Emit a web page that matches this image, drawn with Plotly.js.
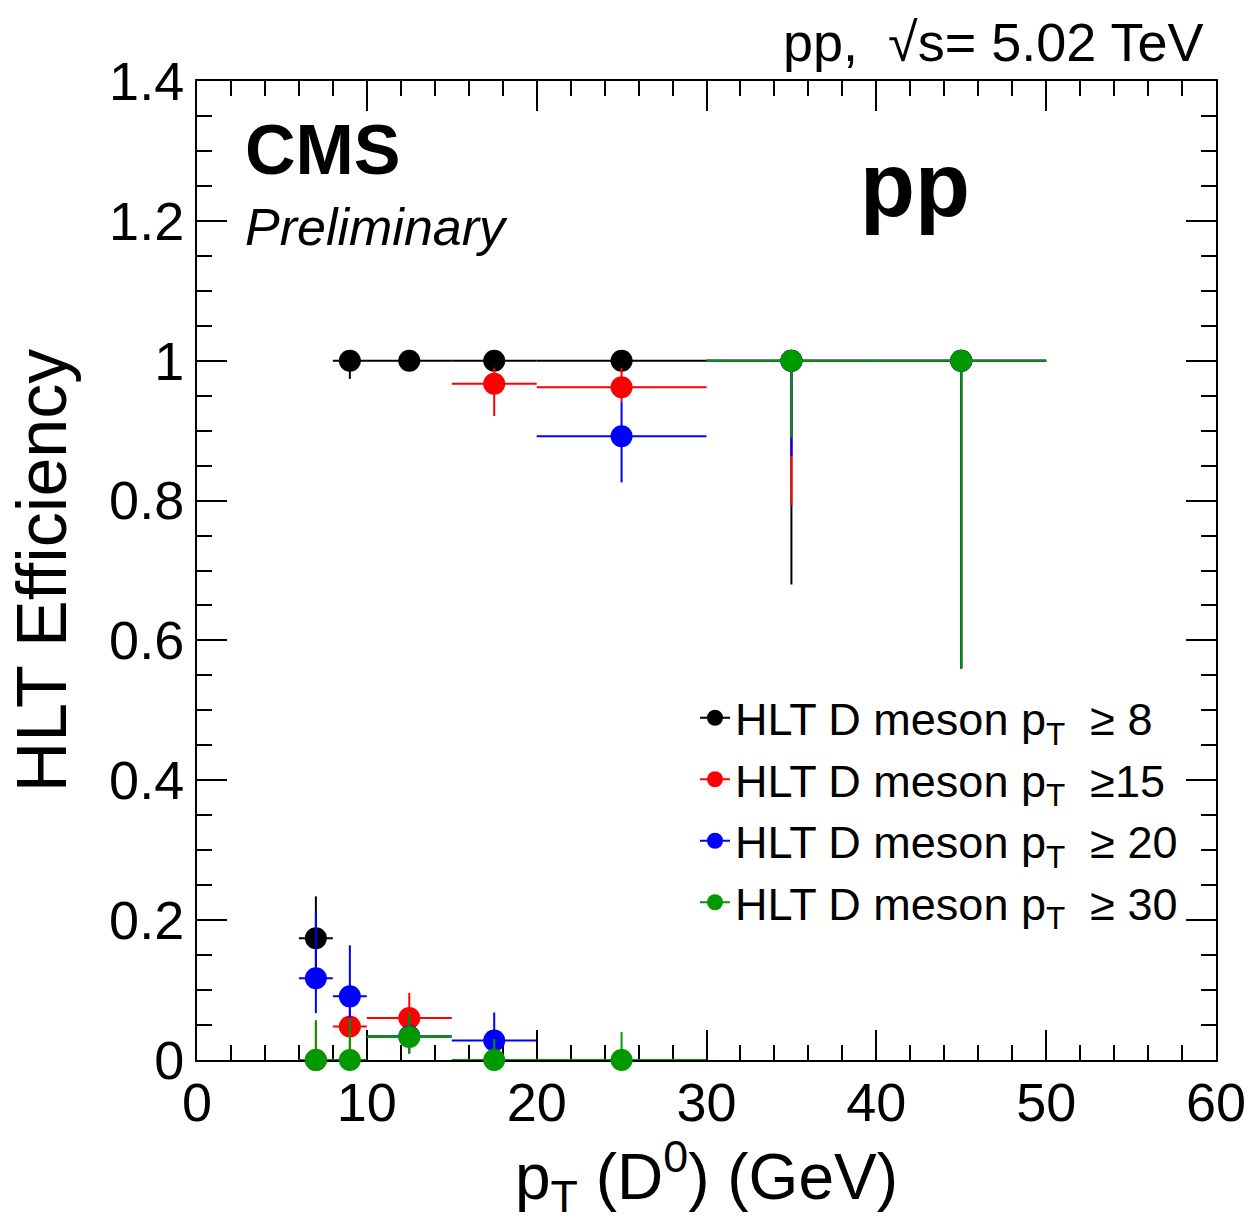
<!DOCTYPE html>
<html>
<head>
<meta charset="utf-8">
<script src="https://cdn.plot.ly/plotly-3.0.1.min.js"></script>
<style>html,body{margin:0;padding:0;background:#fff;}#chart{width:1253px;height:1221px;}</style>
</head>
<body>
<div id="chart"></div>
<script>
// Bin centres and half-widths (GeV)
const binCenters = [7, 9, 12.5, 17.5, 25, 35, 45];
const binHalfWidths = [1, 1, 2.5, 2.5, 5, 5, 5];

// HLT D meson pT >= 8
const eff8 = [0.174, 1, 1, 1, 1, 1, 1];
const eff8Up = [0.06, 0, 0, 0, 0, 0, 0];
const eff8Down = [0.05, 0.026, 0.01, 0.008, 0.01, 0.32, 0.44];

// HLT D meson pT >= 15
const eff15 = [0, 0.048, 0.06, 0.967, 0.962, 1, 1];
const eff15Up = [0.055, 0.06, 0.036, 0.023, 0.028, 0, 0];
const eff15Down = [0, 0.035, 0.03, 0.046, 0.02, 0.207, 0.44];

// HLT D meson pT >= 20
const eff20 = [0.117, 0.091, 0.034, 0.028, 0.892, 1, 1];
const eff20Up = [0.093, 0.073, 0.03, 0.04, 0.05, 0, 0];
const eff20Down = [0.05, 0.05, 0.025, 0.02, 0.066, 0.136, 0.44];

// HLT D meson pT >= 30
const eff30 = [0, 0, 0.033, 0, 0, 1, 1];
const eff30Up = [0.057, 0.06, 0.035, 0.03, 0.04, 0, 0];
const eff30Down = [0, 0, 0.023, 0, 0, 0.11, 0.44];

const seriesNames = [
  "HLT D meson p<sub>T</sub>\u00A0 \u2265 8",
  "HLT D meson p<sub>T</sub>\u00A0 \u226515",
  "HLT D meson p<sub>T</sub>\u00A0 \u2265 20",
  "HLT D meson p<sub>T</sub>\u00A0 \u2265 30"
];
const seriesColors = ["#000000", "#ff0000", "#0000ff", "#009900"];
const seriesY = [eff8, eff15, eff20, eff30];
const seriesUp = [eff8Up, eff15Up, eff20Up, eff30Up];
const seriesDown = [eff8Down, eff15Down, eff20Down, eff30Down];

const FONT = '"Liberation Sans", Arial, Helvetica, sans-serif';

const traces = [];
for (let i = 0; i < 4; i++) {
  traces.push({
    type: 'scatter', mode: 'markers', showlegend: false, cliponaxis: false,
    x: binCenters, y: seriesY[i],
    marker: {color: seriesColors[i], size: 22},
    error_x: {type: 'data', array: binHalfWidths, symmetric: true, color: seriesColors[i], thickness: 2, width: 0},
    error_y: {type: 'data', symmetric: false, array: seriesUp[i], arrayminus: seriesDown[i], color: seriesColors[i], thickness: 2, width: 0}
  });
}
for (let i = 0; i < 4; i++) {
  traces.push({
    type: 'scatter', mode: 'lines+markers', name: seriesNames[i],
    x: [null], y: [null],
    line: {color: seriesColors[i], width: 2},
    marker: {color: seriesColors[i], size: 22}
  });
}

const L = 197, R = 37, T = 81, B = 161;
const H = 1221 - T - B;
function py(pix) { return (1221 - B - pix) / H; }
function px(pix) { return (pix - L) / (1253 - L - R); }

const layout = {
  width: 1253, height: 1221,
  margin: {l: L, r: R, t: T, b: B},
  paper_bgcolor: '#fff', plot_bgcolor: '#fff',
  font: {family: FONT, color: '#000'},
  showlegend: true,
  legend: {
    x: px(695), y: py(682), xanchor: 'left', yanchor: 'top',
    bgcolor: 'rgba(0,0,0,0)', font: {size: 45, family: FONT},
    tracegroupgap: 0, itemclick: false
  },
  xaxis: {
    range: [0, 60], dtick: 10, tick0: 0, layer: 'below traces',
    ticks: 'inside', ticklen: 30, tickwidth: 2, tickcolor: '#000',
    showline: true, linewidth: 2, linecolor: '#000', mirror: 'allticks',
    showgrid: false, zeroline: false,
    minor: {dtick: 2, ticks: 'inside', ticklen: 15, tickwidth: 2, tickcolor: '#000', showgrid: false},
    tickfont: {size: 54, family: FONT},
    ticklabelstandoff: -6,
    title: {text: 'p<sub>T</sub> (D<sup>0</sup>) (GeV)', font: {size: 64, family: FONT}, standoff: 18}
  },
  yaxis: {
    range: [0, 1.4], dtick: 0.2, tick0: 0, layer: 'below traces',
    ticks: 'inside', ticklen: 30, tickwidth: 2, tickcolor: '#000',
    showline: true, linewidth: 2, linecolor: '#000', mirror: 'allticks',
    showgrid: false, zeroline: false,
    minor: {dtick: 0.05, ticks: 'inside', ticklen: 15, tickwidth: 2, tickcolor: '#000', showgrid: false},
    tickfont: {size: 54, family: FONT},
    ticklabelstandoff: 0,
    title: {text: 'HLT Efficiency', font: {size: 70, family: FONT}, standoff: 20}
  },
  annotations: [
    {xref: 'paper', yref: 'paper', x: px(243), y: py(150), xanchor: 'left', yanchor: 'middle',
     text: '<b>CMS</b>', showarrow: false, font: {size: 70, family: FONT}},
    {xref: 'paper', yref: 'paper', x: px(243), y: py(227), xanchor: 'left', yanchor: 'middle',
     text: '<i>Preliminary</i>', showarrow: false, font: {size: 52, family: FONT}},
    {xref: 'paper', yref: 'paper', x: px(915), y: py(185), xanchor: 'center', yanchor: 'middle',
     text: '<b>pp</b>', showarrow: false, font: {size: 90, family: FONT}},
    {xref: 'paper', yref: 'paper', x: px(1205), y: py(42), xanchor: 'right', yanchor: 'middle',
     text: 'pp,\u00A0 \u221As= 5.02 TeV', showarrow: false, font: {size: 54, family: FONT}}
  ]
};

Plotly.newPlot('chart', traces, layout, {staticPlot: true, displayModeBar: false});
</script>
</body>
</html>
